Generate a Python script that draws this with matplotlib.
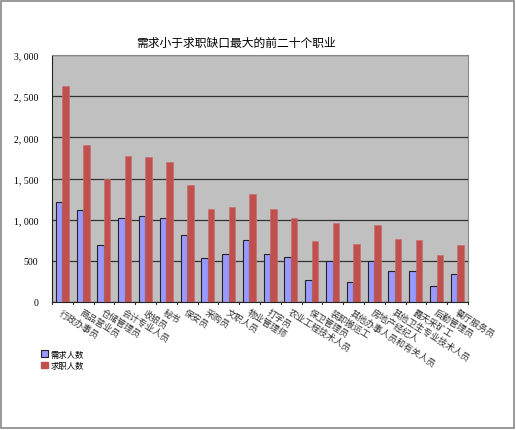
import matplotlib

matplotlib.use("Agg")
import matplotlib.pyplot as plt
import numpy as np
from matplotlib.patches import Rectangle, Patch

plt.rcParams["font.family"] = ["Noto Sans CJK SC", "DejaVu Sans"]

occupations = [
    "行政办事员", "商品营业员", "仓储管理员", "会计专业人员", "收银员",
    "秘书", "保安员", "采购员", "文职人员", "物业管理师",
    "打字员", "农业工程技术人员", "保卫管理员", "装卸搬运工", "其他办事人员和有关人员",
    "房地产经纪人", "其他卫生专业技术人员", "露天采矿工", "后勤管理员", "餐厅服务员",
]
demand = [1215, 1112, 695, 1020, 1040, 1020, 813, 534, 582, 752,
          578, 542, 263, 493, 247, 493, 376, 376, 198, 344]
seekers = [2620, 1904, 1488, 1771, 1763, 1706, 1427, 1128, 1152, 1314,
           1128, 1015, 740, 958, 708, 938, 764, 752, 570, 691]

fig = plt.figure(figsize=(5.16, 4.31), dpi=100)
fig.patches.append(Rectangle((0.002, 0.004), 0.994, 0.992, transform=fig.transFigure,
                             fill=False, edgecolor="#888888", linewidth=1.2))

ax = fig.add_axes([0.1008, 0.297, 0.806, 0.573])
ax.set_facecolor("#C0C0C0")

x = np.arange(len(occupations))
w = 0.31
ax.bar(x - 0.165, demand, w, color="#9999FF", edgecolor="#222222", linewidth=0.8, zorder=3)
ax.bar(x + 0.15, seekers, w, color="#C0504D", edgecolor="#C87070", linewidth=0.5, zorder=3)

ax.set_xlim(-0.5, len(occupations) - 0.5)
ax.set_ylim(0, 3000)
ax.set_yticks(range(0, 3001, 500))
ax.set_yticklabels([f"{v:,}".replace(",", ", ") for v in range(0, 3001, 500)],
                   fontsize=7, family="Liberation Serif")
ax.yaxis.grid(True, color="#333333", linewidth=0.9, zorder=1)
ax.tick_params(axis="y", length=0, pad=10)

ax.set_xticks(x)
ax.set_xticklabels(occupations, rotation=-32, ha="left", va="top",
                   rotation_mode="anchor", fontsize=6.5, color="#333333")
ax.tick_params(axis="x", length=0, pad=4)
for t in np.arange(-0.5, len(occupations), 1):
    ax.plot([t, t], [0, -30], color="#333333", linewidth=0.8, clip_on=False)

for s in ["top", "right"]:
    ax.spines[s].set_color("#888888")
ax.spines["left"].set_color("#222222")
ax.spines["bottom"].set_color("#222222")

fig.text(0.457, 0.9, "需求小于求职缺口最大的前二十个职业", ha="center", va="center",
         fontsize=8.5)

handles = [Patch(facecolor="#9999FF", edgecolor="#222222", linewidth=0.8),
           Patch(facecolor="#C0504D", edgecolor="#C0504D")]
fig.legend(handles, ["需求人数", "求职人数"], loc="upper left",
           bbox_to_anchor=(0.065, 1 - 343 / 431), frameon=False, fontsize=6,
           handlelength=0.8, handleheight=0.8, handletextpad=0.3, labelspacing=0.3)

fig.savefig("out.png", dpi=100)
